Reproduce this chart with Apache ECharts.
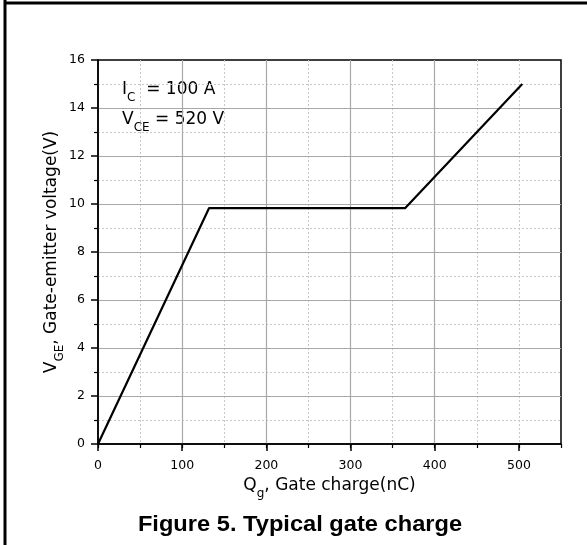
<!DOCTYPE html>
<html>
<head>
<meta charset="utf-8">
<script src="https://cdn.jsdelivr.net/npm/echarts@6/dist/echarts.min.js"></script>
<style>html,body{margin:0;padding:0;background:#fff}#c{width:587px;height:545px}</style>
</head>
<body>
<div id="c"></div>
<script>
// Gate charge curve: Qg (nC) vs VGE (V)
var qg = [0, 132, 365, 504];
var vge = [0, 9.83, 9.83, 15.0];
var xMajorTicks = [0, 100, 200, 300, 400, 500];
var xMin = 0, xMax = 550, xMajor = 100, xMinor = 50;
var yMin = 0, yMax = 16, yMajor = 2;

var FONT = '"DejaVu Sans", Verdana, sans-serif';
var chart = echarts.init(document.getElementById('c'), null, {renderer: 'canvas'});
var gridRect = {left: 98, right: 26, top: 60, bottom: 101};

chart.setOption({
  animation: false,
  backgroundColor: '#fff',
  grid: [
    Object.assign({show: true, borderColor: '#000', borderWidth: 1.5, backgroundColor: 'transparent', containLabel: false}, gridRect),
    Object.assign({show: false, containLabel: false}, gridRect)
  ],
  xAxis: [
    {
      type: 'value', gridIndex: 0, position: 'bottom', min: xMin, max: xMax, interval: xMajor, z: 2,
      axisLine: {show: true, lineStyle: {color: '#000', width: 1.5}},
      axisTick: {show: true, length: 7, customValues: xMajorTicks, lineStyle: {color: '#000', width: 1.5}},
      axisLabel: {show: true, customValues: xMajorTicks, margin: 15, color: '#000', fontSize: 12.5, fontFamily: FONT},
      splitLine: {show: true, showMinLine: false, showMaxLine: false, lineStyle: {color: '#a8a8a8', width: 1.2}},
      name: '{m|Q}{s|g}{m|, Gate charge(nC)}',
      nameLocation: 'middle', nameGap: 28,
      nameTextStyle: {rich: {
        m: {fontSize: 17, fontFamily: FONT, color: '#000'},
        s: {fontSize: 12, fontFamily: FONT, color: '#000', verticalAlign: 'bottom', padding: [0, 0, -6, 0]}
      }}
    },
    {
      type: 'value', gridIndex: 0, position: 'top', min: xMin, max: xMax, interval: xMinor, z: 1,
      axisLine: {show: false}, axisTick: {show: false}, axisLabel: {show: false},
      splitLine: {show: true, showMinLine: false, showMaxLine: false, lineStyle: {color: '#c8c8c8', width: 1, type: [2, 2]}}
    },
    {
      type: 'value', gridIndex: 1, position: 'bottom', min: xMin, max: xMax, interval: xMinor, z: 2,
      axisLine: {show: false},
      axisTick: {show: true, length: 4, lineStyle: {color: '#000', width: 1.2}},
      axisLabel: {show: false}, splitLine: {show: false}
    }
  ],
  yAxis: [
    {
      type: 'value', gridIndex: 0, position: 'left', min: yMin, max: yMax, interval: yMajor, z: 2,
      axisLine: {show: true, lineStyle: {color: '#000', width: 1.5}},
      axisTick: {show: true, length: 7, lineStyle: {color: '#000', width: 1.5}},
      minorTick: {show: true, splitNumber: 2, length: 4, lineStyle: {color: '#000', width: 1.2}},
      axisLabel: {show: true, margin: 13, color: '#000', fontSize: 12.5, fontFamily: FONT},
      splitLine: {show: true, showMinLine: false, showMaxLine: false, lineStyle: {color: '#a8a8a8', width: 1.2}},
      minorSplitLine: {show: true, lineStyle: {color: '#c8c8c8', width: 1, type: [2, 2]}},
      name: '{m|V}{s|GE}{m|, Gate-emitter voltage(V)}',
      nameLocation: 'middle', nameGap: 38, nameRotate: 90, nameMoveOverlap: false,
      nameTextStyle: {rich: {
        m: {fontSize: 17, fontFamily: FONT, color: '#000'},
        s: {fontSize: 12, fontFamily: FONT, color: '#000', verticalAlign: 'bottom', padding: [0, 0, -6, 0]}
      }}
    },
    {
      type: 'value', gridIndex: 1, min: yMin, max: yMax, show: false
    }
  ],
  series: [{
    type: 'line', xAxisIndex: 0, yAxisIndex: 0, z: 5,
    data: qg.map(function (q, i) { return [q, vge[i]]; }),
    showSymbol: false, symbol: 'none',
    lineStyle: {color: '#000', width: 2.2},
    silent: true
  }],
  graphic: [
    {type: 'line', shape: {x1: 5, y1: 0, x2: 5, y2: 545}, style: {stroke: '#000', lineWidth: 3}},
    {type: 'line', shape: {x1: 4, y1: 3, x2: 587, y2: 3}, style: {stroke: '#000', lineWidth: 3}},
    {type: 'text', left: 122, top: 81, style: {
      text: '{m|I}{s|C}{m|  = 100 A}', rich: {
        m: {fontSize: 17, fontFamily: FONT, fill: '#000'},
        s: {fontSize: 12, fontFamily: FONT, fill: '#000', verticalAlign: 'bottom', padding: [0, 0, -6, 0]}
      }}},
    {type: 'text', left: 122, top: 111, style: {
      text: '{m|V}{s|CE}{m| = 520 V}', rich: {
        m: {fontSize: 17, fontFamily: FONT, fill: '#000'},
        s: {fontSize: 12, fontFamily: FONT, fill: '#000', verticalAlign: 'bottom', padding: [0, 0, -6, 0]}
      }}},
    {type: 'text', x: 300, y: 525, scaleX: 1.1, style: {
      text: 'Figure 5. Typical gate charge', fontSize: 21.5, fontWeight: 'bold',
      fontFamily: 'Arial, "Liberation Sans", sans-serif', fill: '#000', align: 'center', verticalAlign: 'middle'
    }}
  ]
});
</script>
</body>
</html>
